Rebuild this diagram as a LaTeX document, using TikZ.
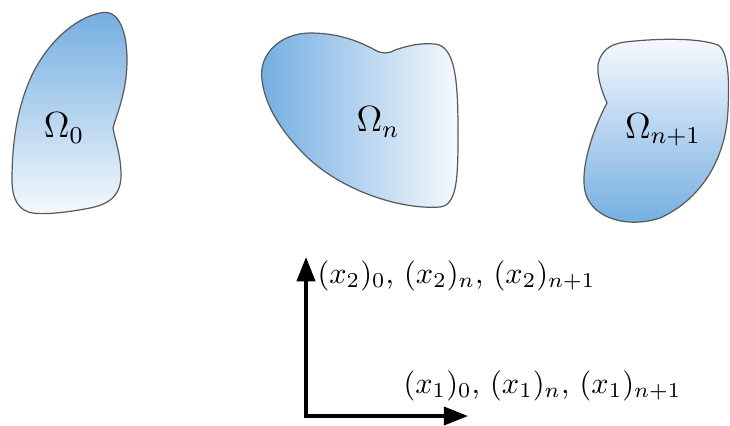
\documentclass[tikz,border=0pt]{standalone}
\usetikzlibrary{arrows.meta}
\definecolor{blobblue}{RGB}{114,173,225}
\definecolor{blobwhite}{RGB}{246,249,253}
\begin{document}
\begin{tikzpicture}[x=0.33pt, y=-0.33pt,
    blob/.style={draw=black!65, line width=0.4pt},
    domlabel/.style={font=\large, inner sep=1pt},
    axis/.style={line width=1.1pt, line cap=rect, -{Triangle[length=8pt,width=6pt]}},
    axlabel/.style={font=\normalsize, inner sep=0pt}]
    \useasboundingbox (0,0) rectangle (730,425);
    % the three domains
    \shadedraw[blob, top color=blobblue, bottom color=blobwhite]
        (100,13) .. controls (118,8) and (127,30) .. (127,60)
        .. controls (127,92) and (117,113) .. (113,128)
        .. controls (115,140) and (121,155) .. (121,175)
        .. controls (121,195) and (110,204) .. (90,208)
        .. controls (70,212) and (45,215) .. (33,213)
        .. controls (18,211) and (12,198) .. (12,180)
        .. controls (12,140) and (18,105) .. (32,75)
        .. controls (48,42) and (75,18) .. (100,13) -- cycle;
    \shadedraw[blob, left color=blobblue, right color=blobwhite]
        (262,80) .. controls (258,55) and (280,33) .. (310,33)
        .. controls (340,33) and (360,42) .. (375,50)
        .. controls (382,54) and (388,54) .. (395,50)
        .. controls (410,45) and (420,43) .. (435,44)
        .. controls (455,46) and (458,80) .. (458,130)
        .. controls (458,175) and (458,205) .. (440,207)
        .. controls (400,210) and (340,190) .. (305,155)
        .. controls (280,130) and (265,105) .. (262,80) -- cycle;
    \shadedraw[blob, top color=blobwhite, bottom color=blobblue]
        (625,42) .. controls (660,38) and (700,38) .. (718,45)
        .. controls (730,52) and (729,90) .. (728,110)
        .. controls (726,160) and (700,200) .. (660,218)
        .. controls (630,228) and (595,220) .. (586,195)
        .. controls (578,170) and (595,125) .. (607,103)
        .. controls (602,92) and (594,70) .. (600,58)
        .. controls (605,48) and (612,44) .. (625,42) -- cycle;
    \node[domlabel] (om0) at (64,128) {$\Omega_0$};
    \node[domlabel] (omn) at (378,122) {$\Omega_n$};
    \node[domlabel] (omnn) at (663,130) {$\Omega_{n+1}$};
    % axes
    \coordinate (orig) at (306,416);
    \coordinate (xtwo) at (306,257);
    \coordinate (xone) at (468,416);
    \draw[axis] (orig) -- (xtwo);
    \draw[axis] (orig) -- (xone);
    \node[axlabel, anchor=base west] (labtwo) at (317,283) {$(x_2)_0$, $(x_2)_n$, $(x_2)_{n+1}$};
    \node[axlabel, anchor=base west] (labone) at (403,393) {$(x_1)_0$, $(x_1)_n$, $(x_1)_{n+1}$};
\end{tikzpicture}
\end{document}
